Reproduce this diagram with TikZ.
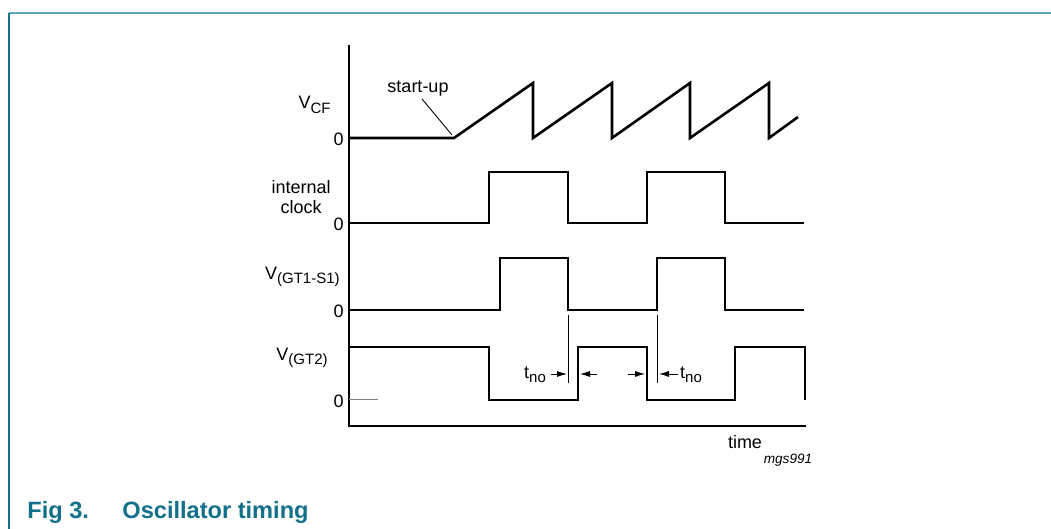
\documentclass[tikz,border=0pt]{standalone}
\usepackage{fontspec}
\setmainfont{Liberation Sans}
\usepackage{tikz}
\usetikzlibrary{arrows,arrows.meta,positioning,calc}
\definecolor{captioncolor}{RGB}{18,112,138}
\definecolor{framecolor}{RGB}{95,165,185}
\newcommand{\lowsub}[1]{\raisebox{-0.45ex}{\fontsize{7.5}{8}\selectfont #1}}

\begin{document}
\begin{tikzpicture}[x=0.5pt,y=-0.5pt,>={Latex[length=5pt,width=3pt]},every node/.style={font=\fontsize{9}{10}\selectfont,inner sep=0pt},wave/.style={line width=1.3pt},axis/.style={line width=0.8pt},thinline/.style={line width=0.45pt}]
\useasboundingbox (0,0) rectangle (1051,529);
% frame
\draw[framecolor,line width=1pt](9,13.5)--(1051,13.5); \draw[captioncolor,line width=0.7pt](9,13.5)--(9,529);
% axes
\draw[axis](349,45)--(349,426)--(806,426);
% waveforms
\draw[wave](349,138)--(454,138)--(533,83)--(533,138)--(612,83)--(612,138)--(690,83)--(690,138)--(769,83)--(769,138)--(798,117);
\draw[wave](349,223)--(489,223)--(489,172)--(568,172)--(568,223)--(647,223)--(647,172)--(725,172)--(725,223)--(804,223);
\draw[wave](349,310)--(500,310)--(500,258)--(568,258)--(568,310)--(657,310)--(657,258)--(725,258)--(725,310)--(804,310);
\draw[wave](349,347)--(489,347)--(489,400)--(578,400)--(578,347)--(647,347)--(647,400)--(735,400)--(735,347)--(805,347)--(805,400);
\draw[gray,line width=0.5pt](349,400)--(378,400);
% labels
\node[anchor=east](vcf) at (331,105){V\lowsub{CF}};
\node[anchor=east](zeroa) at (344,139){0};
\node[anchor=east,align=center](clk) at (331,197){internal\\clock};
\node[anchor=east](zerob) at (344,224){0};
\node[anchor=east](gts) at (340,277){V\lowsub{(GT1-S1)}};
\node[anchor=east](zeroc) at (344,311){0};
\node[anchor=east](gt) at (328,358){V\lowsub{(GT2)}};
\node[anchor=east](zerod) at (344,401){0};
\node(startup) at (418,89){start-up};
\coordinate(su) at (422,99); \coordinate(ramp) at (452,135);
\draw[thinline](su)--(ramp);
% t_no markers
\coordinate(ma) at (568,315); \coordinate(mb) at (568,383); \coordinate(mc) at (657,315); \coordinate(md) at (657,383);
\draw[thinline](ma)--(mb); \draw[thinline](mc)--(md);
\node(tnoa) at (535,375){t\lowsub{no}};
\node(tnob) at (691,375){t\lowsub{no}};
\coordinate(pa) at (551,374); \coordinate(qa) at (567,374);
\coordinate(pb) at (597,374); \coordinate(qb) at (580,374);
\coordinate(pc) at (628,374); \coordinate(qc) at (645,374);
\coordinate(pd) at (678,374); \coordinate(qd) at (659,374);
\draw[->,thinline](pa)--(qa); \draw[->,thinline](pb)--(qb); \draw[->,thinline](pc)--(qc); \draw[->,thinline](pd)--(qd);
\node(time) at (745,442){time};
\node[font=\fontsize{6.8}{8}\selectfont\itshape](ref) at (788,460){mgs991};
% caption
\node[anchor=base west,font=\fontsize{11.8}{13}\selectfont\bfseries,text=captioncolor](fig) at (27,519){Fig 3.};
\node[anchor=base west,font=\fontsize{11.8}{13}\selectfont\bfseries,text=captioncolor](title) at (122,519){Oscillator timing};
\end{tikzpicture}
\end{document}
